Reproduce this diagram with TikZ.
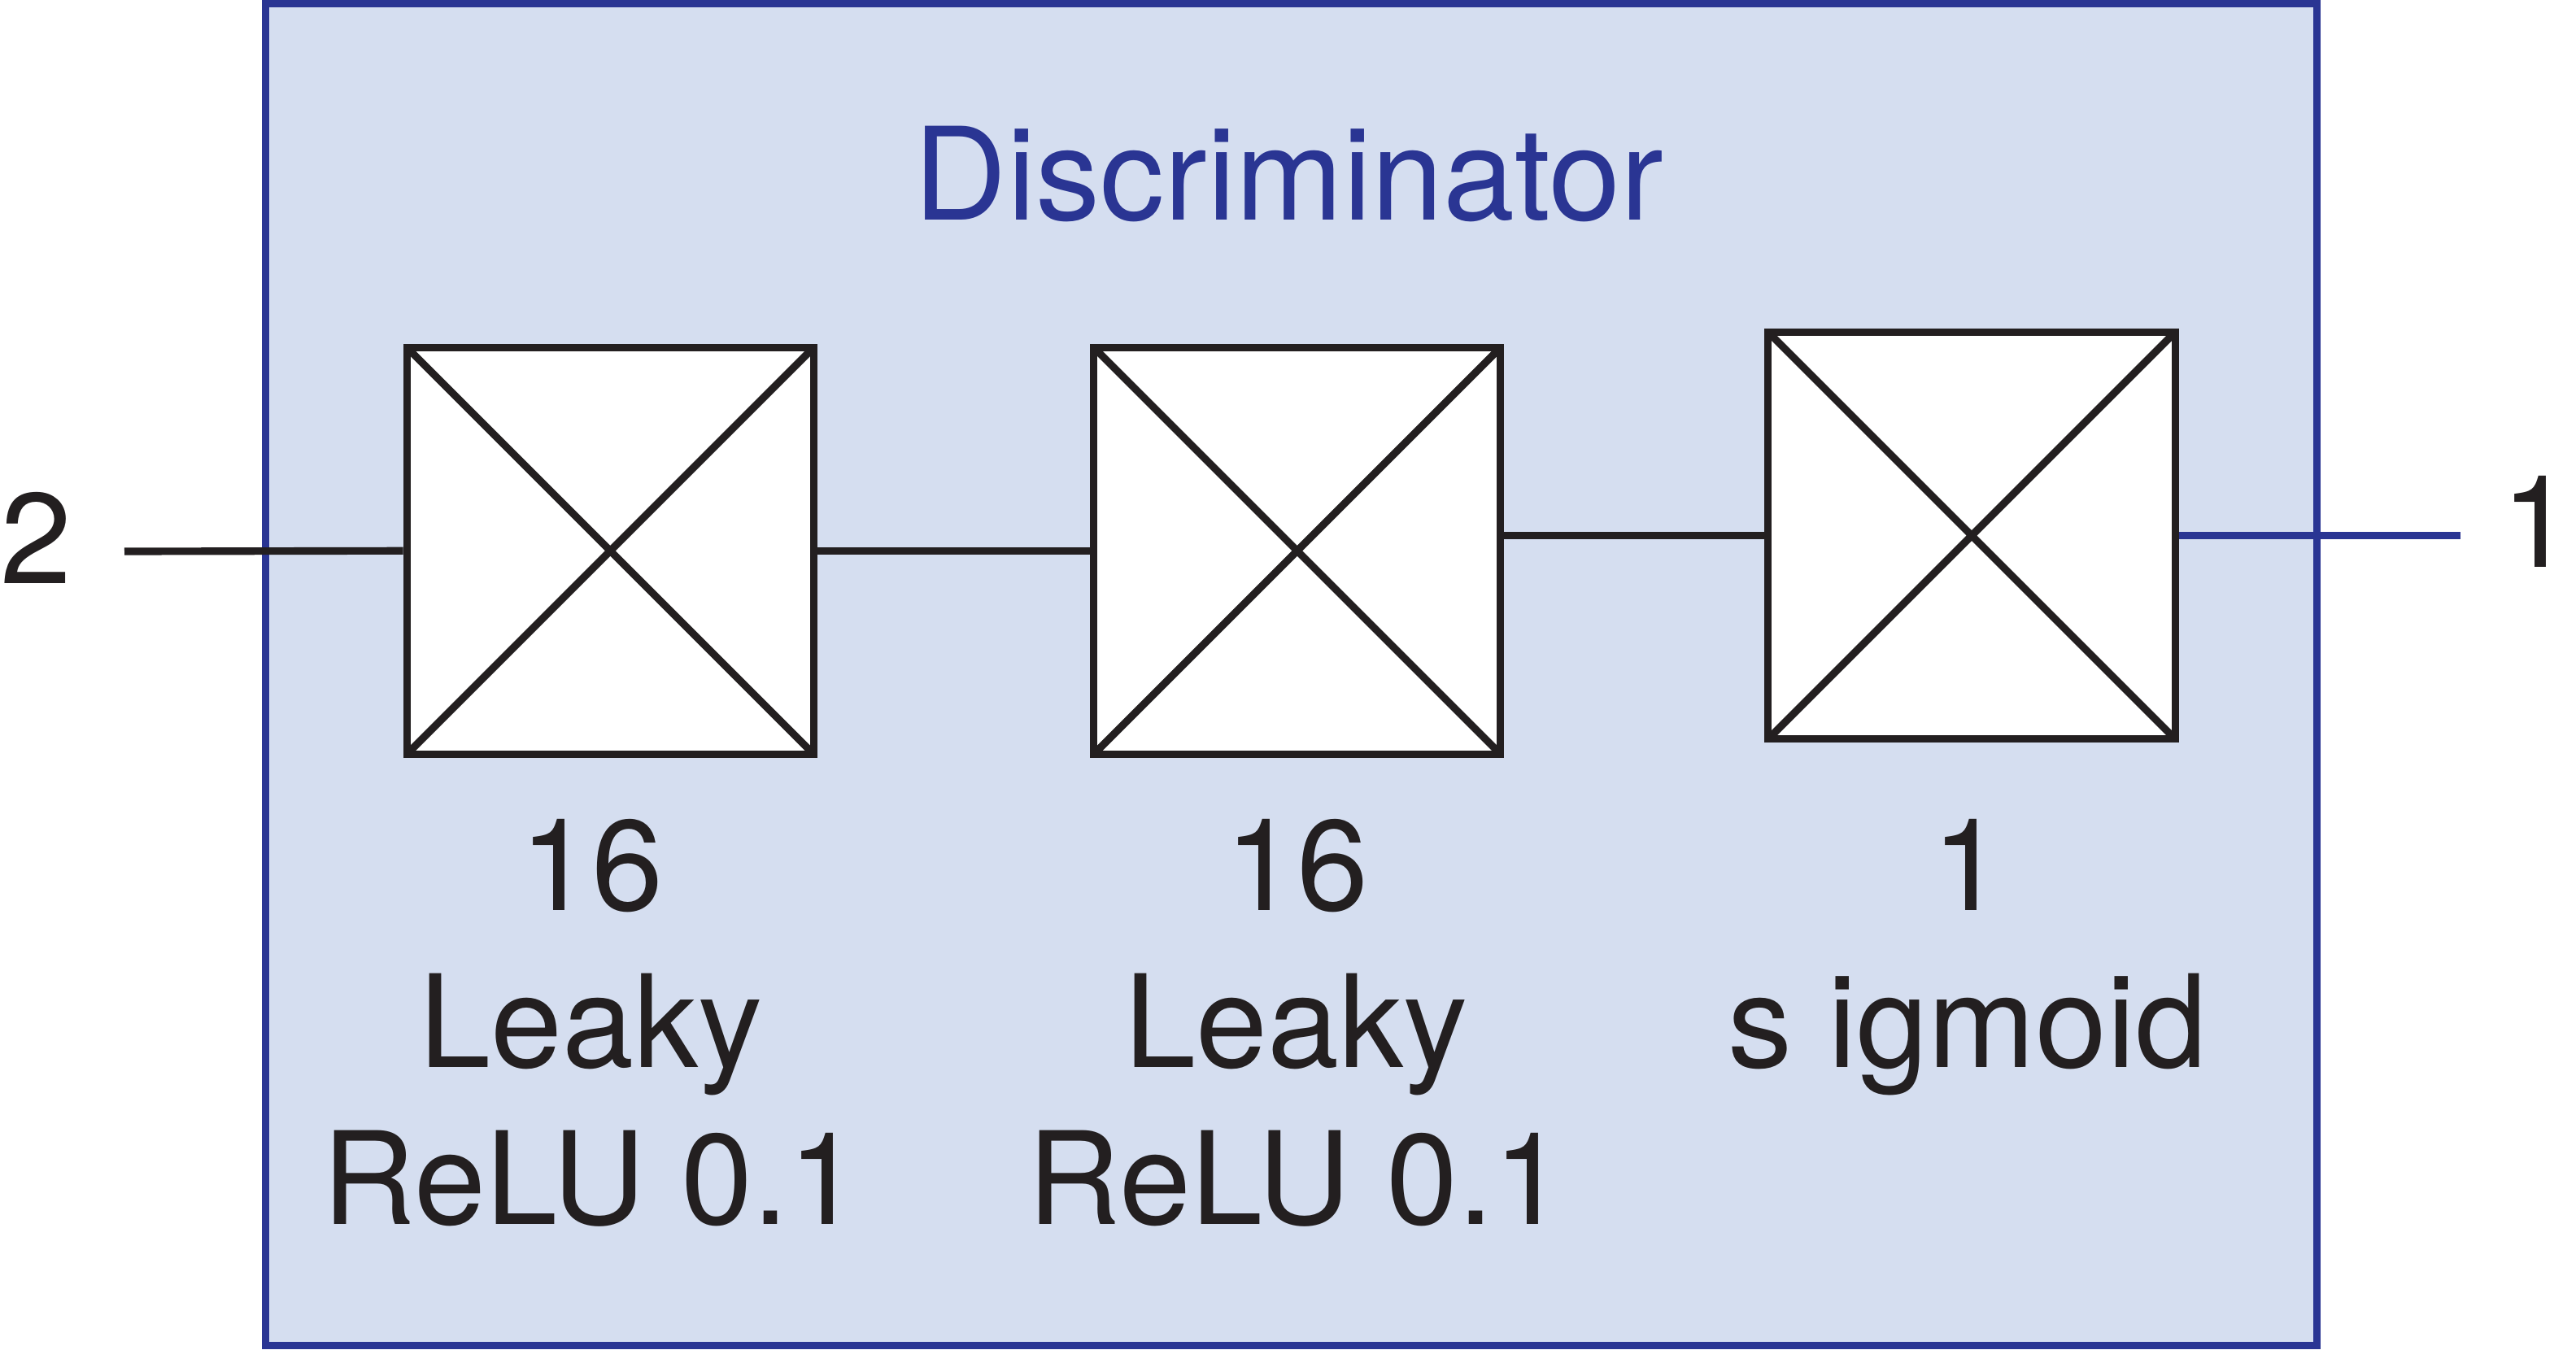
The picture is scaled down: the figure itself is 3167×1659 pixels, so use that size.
\documentclass[tikz,border=0pt]{standalone}
\usepackage{fontspec}
\setmainfont{TeX Gyre Heros}
\definecolor{dblue}{RGB}{42,53,147}
\definecolor{dfill}{RGB}{213,222,240}
\definecolor{dblack}{RGB}{35,31,32}
\begin{document}
\begin{tikzpicture}[x=0.01cm,y=-0.01cm,
  lw/.style={line width=2.6pt},
  frame/.style={draw=dblue, fill=dfill, lw, rectangle, inner sep=0pt, minimum width=25.21cm, minimum height=16.495cm},
  layer/.style={draw=dblack, fill=white, lw, rectangle, inner sep=0pt, minimum size=5cm,
    path picture={\draw[wire] (path picture bounding box.north west) -- (path picture bounding box.south east)
      (path picture bounding box.north east) -- (path picture bounding box.south west);}},
  lbl/.style={text=dblack, font=\fontsize{45}{54.8}\selectfont, align=center, inner sep=0pt},
  wire/.style={draw=dblack, lw},
  bluewire/.style={draw=dblue, lw}]
\useasboundingbox (0,0) rectangle (3167,1659);
\node[frame] (frame) at (1587.5,829.25) {};
\node[lbl, text=dblue, anchor=base] (title) at (1584.5,270) {Discriminator};
\node[layer] (b1) at (750.25,677.25) {};
\node[layer] (b2) at (1594.75,677.25) {};
\node[layer] (b3) at (2424,658.5) {};
\coordinate (in) at (153,678);
\coordinate (out) at (3025,658.5);
\node[lbl, anchor=base] (n2) at (44.5,717) {2};
\node[lbl, anchor=base] (n1) at (3119,697) {1};
\draw[wire] (in) -- (b1.west);
\draw[wire] (b1.east) -- (b2.west);
\draw[wire] (b2.east |- b3.west) -- (b3.west);
\draw[bluewire] (b3.east) -- (out);
\node[lbl, anchor=base] (l1) at (727,1505) {16\\Leaky\\ReLU 0.1};
\node[lbl, anchor=base] (l2) at (1594,1505) {16\\Leaky\\ReLU 0.1};
\node[lbl, anchor=base] (l3) at (2419,1312) {1\\s igmoid};
\end{tikzpicture}
\end{document}
